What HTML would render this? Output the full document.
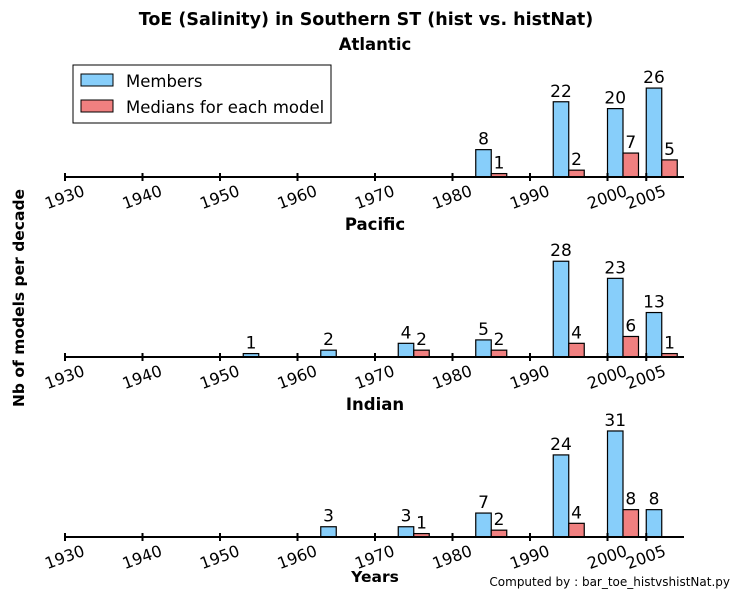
<!DOCTYPE html>
<html><head><meta charset="utf-8"><style>
body{margin:0;background:#fff;}
svg{display:block;font-family:"DejaVu Sans","Liberation Sans",sans-serif;}
</style></head><body>
<svg id="chart" width="739" height="598" viewBox="0 0 739 598" xmlns="http://www.w3.org/2000/svg">
<text x="366" y="25" text-anchor="middle" font-size="17.5" font-weight="bold">ToE (Salinity) in Southern ST (hist vs. histNat)</text>
<text transform="translate(24,298) rotate(-90)" text-anchor="middle" font-size="15.5" font-weight="bold">Nb of models per decade</text>
<text x="375" y="582" text-anchor="middle" font-size="15.5" font-weight="bold">Years</text>
<text x="730" y="586" text-anchor="end" font-size="12">Computed by : bar_toe_histvshistNat.py</text>
<g>
<rect x="73" y="65" width="258" height="58" fill="#fff" stroke="#000" stroke-width="1"/>
<rect x="81" y="74" width="32" height="12" fill="#87cefa" stroke="#000"/>
<text x="126" y="87" font-size="16.5">Members</text>
<rect x="81" y="100" width="32" height="12" fill="#f08080" stroke="#000"/>
<text x="126" y="113" font-size="16.5">Medians for each model</text>
</g>
<g id="panels"></g>
</svg>
<script>
const tickYears = [1930,1940,1950,1960,1970,1980,1990,2000,2005];
const tickLabels = ["1930","1940","1950","1960","1970","1980","1990","2000","2005"];
const barYears = [1935,1945,1955,1965,1975,1985,1995,2002,2007];
const panelNames = ["Atlantic","Pacific","Indian"];
const atlanticMembers = [0,0,0,0,0,8,22,20,26];
const atlanticMedians = [0,0,0,0,0,1,2,7,5];
const pacificMembers = [0,0,1,2,4,5,28,23,13];
const pacificMedians = [0,0,0,0,2,2,4,6,1];
const indianMembers = [0,0,0,3,3,7,24,31,8];
const indianMedians = [0,0,0,0,1,2,4,8,0];
const membersSeries = [atlanticMembers, pacificMembers, indianMembers];
const mediansSeries = [atlanticMedians, pacificMedians, indianMedians];

const NS="http://www.w3.org/2000/svg";
const g=document.getElementById('panels');
const xScale = yr => 65 + (yr-1930)*7.75;
const unit = 3.42, barW = 15.5;
const baselines=[177,357,537];
function mk(tag, attrs){const e=document.createElementNS(NS,tag);for(const k in attrs)e.setAttribute(k,attrs[k]);return e;}
panelNames.forEach((name,p)=>{
  const base=baselines[p];
  const pg=mk('g',{});
  
  
  g.appendChild(pg);
  const t=mk('text',{x:375,y:base-127,'text-anchor':'middle','font-size':'16.5','font-weight':'bold'});
  
  
  t.textContent=name; pg.appendChild(t);
  const yScale = v => base - v*unit;
  barYears.forEach((yr,i)=>{
    [[membersSeries[p][i],'#87cefa',0,'members'],[mediansSeries[p][i],'#f08080',barW,'median']].forEach(([v,c,off,kind])=>{
      if(v<=0) return;
      const x=xScale(yr)-barW+off;
      const r=mk('rect',{x:x,y:yScale(v),width:barW,height:v*unit,fill:c,stroke:'#000','stroke-width':1.2});
      
      
      pg.appendChild(r);
      const l=mk('text',{x:x+barW/2,y:yScale(v)-5,'text-anchor':'middle','font-size':'17'});
      
      
      l.textContent=v; pg.appendChild(l);
    });
  });
  const ax=mk('line',{x1:65,x2:684,y1:base,y2:base,stroke:'#000','stroke-width':2});
  
  
  pg.appendChild(ax);
  tickYears.forEach((yr,i)=>{
    const x=xScale(yr);
    const tk=mk('line',{x1:x,x2:x,y1:base-4,y2:base+4,stroke:'#000','stroke-width':2});
    
    
    pg.appendChild(tk);
    const tl=mk('text',{transform:`translate(${x},${base+21}) rotate(-20)`,'text-anchor':'middle','dominant-baseline':'middle','font-size':'16'});
    
    
    tl.textContent=tickLabels[i]; pg.appendChild(tl);
  });
});
</script>
</body></html>
